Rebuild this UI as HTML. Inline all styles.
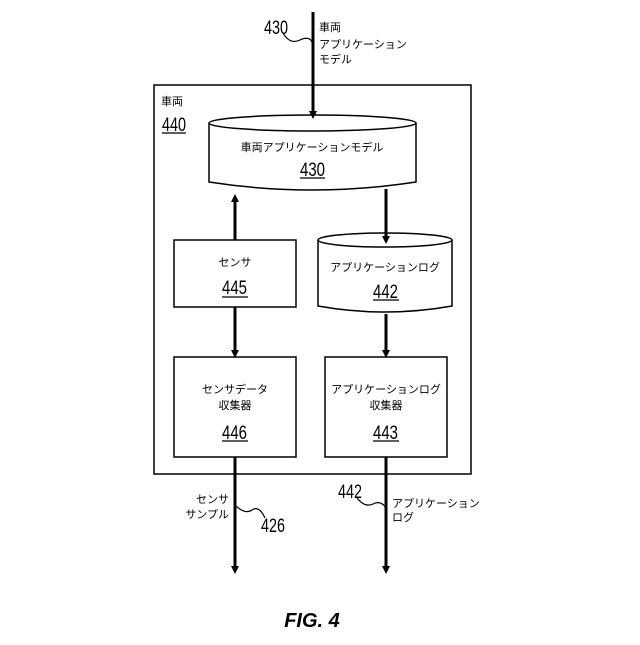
<!DOCTYPE html>
<html><head><meta charset="utf-8"><style>
body{margin:0;background:#fff}
svg text{font-family:"Liberation Sans","Noto Sans CJK JP",sans-serif;fill:#000}
.n{font-family:"Liberation Sans Narrow","Liberation Sans",sans-serif;font-size:19px}
</style></head><body>
<svg width="640" height="640" viewBox="0 0 640 640" xmlns="http://www.w3.org/2000/svg">
<defs><marker id="a" markerWidth="8" markerHeight="8" refX="4" refY="4" orient="auto" markerUnits="userSpaceOnUse"><path d="M0,0 L8,4 L0,8 z" fill="#000"/></marker></defs>
<g stroke="#000" fill="none" stroke-width="1.5">
<rect x="154" y="85" width="317" height="389"/>
<path d="M209,123 L209,182 Q312,198 416,182 L416,123" fill="#fff"/>
<ellipse cx="312.5" cy="123" rx="103.5" ry="8" fill="#fff"/>
<rect x="174" y="240" width="122" height="67"/>
<path d="M318,240 L318,306 Q385,318 452,306 L452,240" fill="#fff"/>
<ellipse cx="385" cy="240" rx="67" ry="7" fill="#fff"/>
<rect x="174" y="357" width="122" height="100"/>
<rect x="325" y="357" width="122" height="100"/>
</g>
<g stroke="#000" stroke-width="3" fill="none">
<line x1="313" y1="12" x2="313" y2="115" marker-end="url(#a)"/>
<line x1="235" y1="240" x2="235" y2="198" marker-end="url(#a)"/>
<line x1="386" y1="189" x2="386" y2="240" marker-end="url(#a)"/>
<line x1="235" y1="307" x2="235" y2="354" marker-end="url(#a)"/>
<line x1="386" y1="314" x2="386" y2="354" marker-end="url(#a)"/>
<line x1="235" y1="457" x2="235" y2="570" marker-end="url(#a)"/>
<line x1="386" y1="457" x2="386" y2="570" marker-end="url(#a)"/>
</g>
<g stroke="#000" stroke-width="1.2" fill="none">
<path d="M283,33 Q290,45 300,40 T313,44"/>
<path d="M235,505 Q245,515 252,510 T265,518"/>
<path d="M357,498 Q365,508 373,504 T386,508"/>
<line x1="162" y1="133" x2="186" y2="133"/>
<line x1="300" y1="178" x2="325" y2="178"/>
<line x1="222" y1="297" x2="248" y2="297"/>
<line x1="373" y1="300" x2="399" y2="300"/>
<line x1="222" y1="441" x2="248" y2="441"/>
<line x1="373" y1="441" x2="399" y2="441"/>
</g>
<text class="n" x="264" y="34" textLength="24" lengthAdjust="spacingAndGlyphs">430</text>
<text x="319" y="31" font-size="11">車両</text>
<text x="319" y="48" font-size="11">アプリケーション</text>
<text x="319" y="63" font-size="11">モデル</text>
<text x="161" y="105" font-size="11">車両</text>
<text class="n" x="162" y="131" textLength="24" lengthAdjust="spacingAndGlyphs">440</text>
<text x="312" y="151" font-size="11" text-anchor="middle">車両アプリケーションモデル</text>
<text class="n" x="300" y="176" textLength="25" lengthAdjust="spacingAndGlyphs">430</text>
<text x="235" y="266" font-size="11" text-anchor="middle">センサ</text>
<text class="n" x="222" y="294" textLength="25" lengthAdjust="spacingAndGlyphs">445</text>
<text x="385" y="271" font-size="11" text-anchor="middle">アプリケーションログ</text>
<text class="n" x="373" y="298" textLength="25" lengthAdjust="spacingAndGlyphs">442</text>
<text x="235" y="393" font-size="11" text-anchor="middle">センサデータ</text>
<text x="235" y="409" font-size="11" text-anchor="middle">収集器</text>
<text class="n" x="222" y="439" textLength="25" lengthAdjust="spacingAndGlyphs">446</text>
<text x="386" y="393" font-size="11" text-anchor="middle">アプリケーションログ</text>
<text x="386" y="409" font-size="11" text-anchor="middle">収集器</text>
<text class="n" x="373" y="439" textLength="25" lengthAdjust="spacingAndGlyphs">443</text>
<text x="229" y="503" font-size="11" text-anchor="end">センサ</text>
<text x="229" y="518" font-size="11" text-anchor="end">サンプル</text>
<text class="n" x="261" y="532" textLength="24" lengthAdjust="spacingAndGlyphs">426</text>
<text class="n" x="338" y="498" textLength="24" lengthAdjust="spacingAndGlyphs">442</text>
<text x="392" y="507" font-size="11">アプリケーション</text>
<text x="392" y="521" font-size="11">ログ</text>
<text x="312" y="627" font-size="20" font-weight="bold" font-style="italic" text-anchor="middle">FIG. 4</text>
</svg>
</body></html>
